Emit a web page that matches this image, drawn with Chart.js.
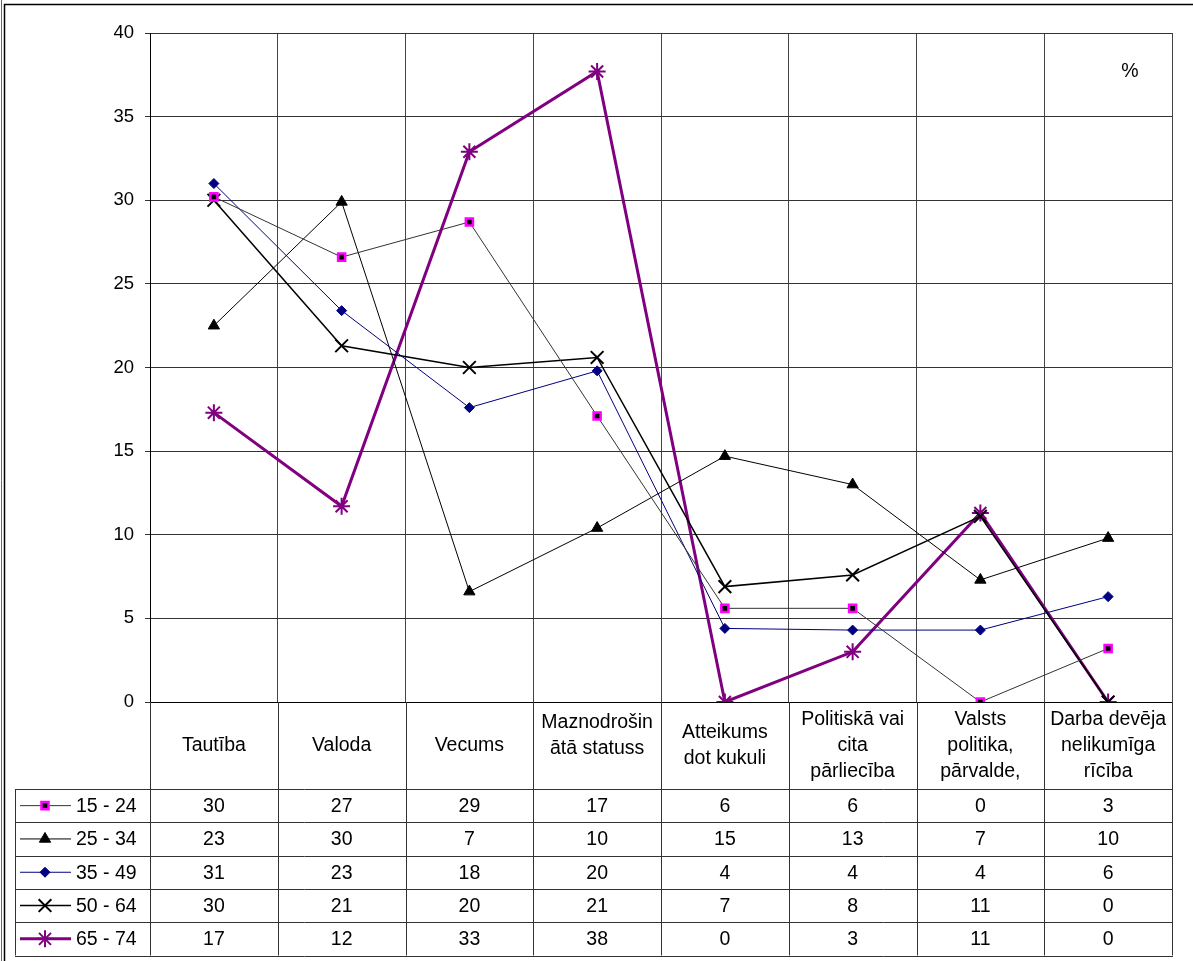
<!DOCTYPE html>
<html>
<head>
<meta charset="utf-8">
<script src="https://cdn.jsdelivr.net/npm/chart.js@4.4.1/dist/chart.umd.min.js"></script>
<style>
  html, body { margin: 0; padding: 0; background: #fff; }
  canvas { display: block; }
</style>
</head>
<body>
<canvas id="myChart" width="1193" height="961"></canvas>
<script>
// categorias (linhas do cabeçalho da tabela)
const categories = [
  ['Tautība'],
  ['Valoda'],
  ['Vecums'],
  ['Maznodrošin', 'ātā statuss', ''],
  ['Atteikums', 'dot kukuli'],
  ['Politiskā vai', 'cita', 'pārliecība'],
  ['Valsts', 'politika,', 'pārvalde,'],
  ['Darba devēja', 'nelikumīga', 'rīcība']
];

const seriesNames = ['15 - 24', '25 - 34', '35 - 49', '50 - 64', '65 - 74'];

// valores (%)
const v1524 = [30.2, 26.6, 28.7, 17.1, 5.6, 5.6, 0, 3.2];
const v2534 = [22.5, 29.9, 6.6, 10.4, 14.7, 13.0, 7.3, 9.8];
const v3549 = [31.0, 23.4, 17.6, 19.8, 4.4, 4.3, 4.3, 6.3];
const v5064 = [30.0, 21.3, 20.0, 20.6, 6.9, 7.6, 11.1, 0];
const v6574 = [17.3, 11.7, 32.9, 37.7, 0, 3.0, 11.3, 0];

const yTicks = [0, 5, 10, 15, 20, 25, 30, 35, 40];

const FONT = 'Arial, "Liberation Sans", sans-serif';

const datasets = [
  { label: seriesNames[0], data: v1524, borderColor: '#333', borderWidth: 1,
    pointStyle: 'rect', pointRadius: 5, pointBackgroundColor: '#000',
    pointBorderColor: '#ff00ff', pointBorderWidth: 2.5 },
  { label: seriesNames[1], data: v2534, borderColor: '#000', borderWidth: 1,
    pointStyle: 'triangle', pointRadius: 6.5, pointBackgroundColor: '#000',
    pointBorderColor: '#000', pointBorderWidth: 1 },
  { label: seriesNames[2], data: v3549, borderColor: '#000080', borderWidth: 1,
    pointStyle: 'rectRot', pointRadius: 5, pointBackgroundColor: '#000080',
    pointBorderColor: '#000080', pointBorderWidth: 1 },
  { label: seriesNames[3], data: v5064, borderColor: '#000', borderWidth: 1.5,
    pointStyle: 'crossRot', pointRadius: 9, pointBackgroundColor: '#000',
    pointBorderColor: '#000', pointBorderWidth: 2 },
  { label: seriesNames[4], data: v6574, borderColor: '#800080', borderWidth: 3,
    pointStyle: 'star', pointRadius: 8.5, pointBackgroundColor: '#800080',
    pointBorderColor: '#800080', pointBorderWidth: 2 }
];
datasets.forEach(d => { d.fill = false; d.tension = 0; d.pointHoverRadius = d.pointRadius; });

// moldura externa e fundo
const framePlugin = {
  id: 'frame',
  beforeDraw(chart) {
    const ctx = chart.ctx;
    ctx.save();
    ctx.fillStyle = '#fff';
    ctx.fillRect(0, 0, chart.width, chart.height);
    ctx.strokeStyle = '#000';
    ctx.lineWidth = 1.5;
    ctx.beginPath();
    ctx.moveTo(4.5, chart.height);
    ctx.lineTo(4.5, 4.5);
    ctx.lineTo(chart.width, 4.5);
    ctx.stroke();
    ctx.strokeStyle = '#666';
    ctx.lineWidth = 1;
    ctx.beginPath();
    ctx.moveTo(1.5, chart.height);
    ctx.lineTo(1.5, 0);
    ctx.stroke();
    ctx.restore();
  }
};

// tabela de dados abaixo do gráfico
const tablePlugin = {
  id: 'dataTable',
  afterDraw(chart) {
    const ctx = chart.ctx;
    const a = chart.chartArea;
    const x = chart.scales.x;
    const n = categories.length;
    const colW = (a.right - a.left) / n;
    const headTop = a.bottom;
    const headBottom = headTop + 87;
    const rowH = 33.3;
    const legLeft = 15;
    const tableBottom = headBottom + rowH * seriesNames.length;

    ctx.save();
    ctx.strokeStyle = '#333';
    ctx.lineWidth = 1;

    // linhas verticais
    ctx.beginPath();
    for (let i = 0; i <= n; i++) {
      const px = Math.round(a.left + colW * i) + 0.5;
      ctx.moveTo(px, headTop);
      ctx.lineTo(px, tableBottom);
    }
    ctx.moveTo(legLeft + 0.5, headBottom);
    ctx.lineTo(legLeft + 0.5, tableBottom);
    // linhas horizontais
    for (let r = 0; r <= seriesNames.length; r++) {
      const py = Math.round(headBottom + rowH * r) + 0.5;
      ctx.moveTo(legLeft, py);
      ctx.lineTo(a.right + 1, py);
    }
    ctx.stroke();

    ctx.fillStyle = '#000';
    ctx.font = '19.5px ' + FONT;
    ctx.textAlign = 'center';
    ctx.textBaseline = 'middle';

    // cabeçalho
    const lh = 26;
    categories.forEach((lines, i) => {
      const cx = x.getPixelForValue(i);
      const cy = (headTop + headBottom) / 2;
      const shift = lines[lines.length - 1] === '' ? 3 : 0;
      lines.forEach((t, k) => {
        ctx.fillText(t, cx, cy + shift + (k - (lines.length - 1) / 2) * lh);
      });
    });

    // linhas de valores
    chart.data.datasets.forEach((ds, r) => {
      const cy = headBottom + rowH * (r + 0.5);
      ctx.textAlign = 'center';
      ctx.fillStyle = '#000';
      ds.data.forEach((v, i) => {
        ctx.fillText(String(Math.round(v)), x.getPixelForValue(i), cy + 1);
      });

      // amostra da legenda
      ctx.save();
      ctx.strokeStyle = ds.borderColor;
      ctx.lineWidth = ds.borderWidth;
      ctx.beginPath();
      ctx.moveTo(20, cy);
      ctx.lineTo(71, cy);
      ctx.stroke();
      ctx.fillStyle = ds.pointBackgroundColor;
      ctx.strokeStyle = ds.pointBorderColor;
      ctx.lineWidth = ds.pointBorderWidth;
      if (Chart.helpers && Chart.helpers.drawPoint) {
        Chart.helpers.drawPoint(ctx, {
          pointStyle: ds.pointStyle, radius: ds.pointRadius,
          borderWidth: ds.pointBorderWidth, rotation: 0
        }, 45, cy);
      }
      ctx.restore();

      ctx.textAlign = 'left';
      ctx.fillStyle = '#000';
      ctx.fillText(ds.label, 76, cy + 1);
    });

    // unidade
    ctx.textAlign = 'center';
    ctx.font = '19.5px ' + FONT;
    ctx.fillText('%', 1130, 72);
    ctx.restore();
  }
};

const ctx = document.getElementById('myChart').getContext('2d');
new Chart(ctx, {
  type: 'line',
  data: { labels: categories, datasets: datasets },
  options: {
    responsive: false,
    animation: false,
    devicePixelRatio: 1,
    layout: { padding: { left: 0, top: 33, right: 21, bottom: 259 } },
    plugins: { legend: { display: false }, tooltip: { enabled: false } },
    scales: {
      x: {
        type: 'category',
        offset: true,
        ticks: { display: false },
        grid: { offset: true, color: '#444', lineWidth: 1, drawTicks: false, tickLength: 0 },
        border: { display: true, color: '#000' },
        afterFit: s => { s.height = 0; }
      },
      y: {
        min: 0,
        max: 40,
        afterBuildTicks: s => { s.ticks = yTicks.map(v => ({ value: v })); },
        ticks: { color: '#000', padding: 11, font: { family: FONT, size: 18.5 } },
        grid: { color: '#333', lineWidth: 1, tickLength: 5 },
        border: { display: true, color: '#000', width: 1 },
        afterFit: s => { s.width = 150; }
      }
    }
  },
  plugins: [framePlugin, tablePlugin]
});
</script>
</body>
</html>
